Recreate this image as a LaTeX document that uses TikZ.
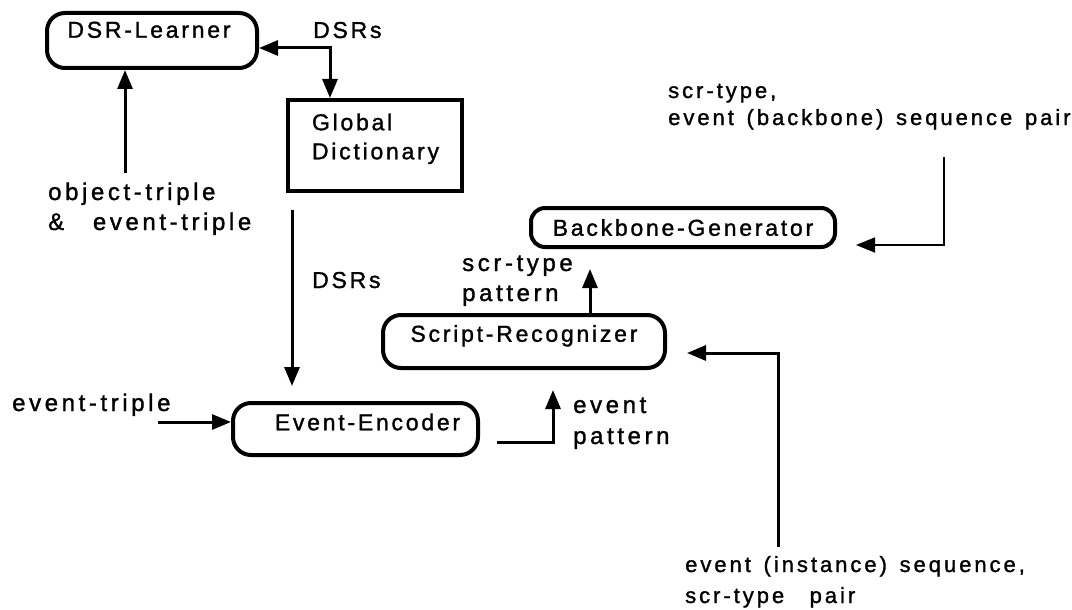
\documentclass[tikz,border=0pt]{standalone}
\usepackage{fontspec}
\setmainfont{Liberation Sans}[LetterSpace=12, FakeBold=1.3]
\newfontfamily\lblfont{Liberation Sans}[LetterSpace=15, WordSpace=1.4, FakeBold=1.3]
\newfontfamily\seqfont{Liberation Sans}[LetterSpace=13.5, WordSpace=1.4, FakeBold=1.3]
\usetikzlibrary{arrows.meta}

\begin{document}
\begin{tikzpicture}[x=1pt, y=-1pt,
  >={Triangle[length=19pt, width=15pt]},
  every node/.style={font=\fontsize{23}{29}\selectfont},
  proc/.style={draw, line width=4pt, rounded corners=18pt, inner sep=0pt, text height=16.5pt},
  conn/.style={line width=3pt, ->},
  thinconn/.style={line width=1.6pt, ->},
  lbl/.style={font=\lblfont\fontsize{24}{30}\selectfont, anchor=base west, align=left, inner sep=0pt},
  seqlbl/.style={lbl, font=\seqfont\fontsize{22}{27}\selectfont}
]
\useasboundingbox (0,0) rectangle (1072,610);

% processing units
\node[proc, minimum width=210pt, minimum height=55pt, text depth=22pt] (dsr) at (152,40.5) {DSR-Learner\hspace*{6pt}};
\node[draw, line width=4pt, minimum width=174pt, minimum height=91pt, inner xsep=0pt,
      text width=126pt, align=left, text height=16.5pt, text depth=47pt] (gd) at (375,145.5) {Global\\Dictionary};
\node[proc, rounded corners=14pt, minimum width=304pt, minimum height=39pt, text depth=0pt] (bg) at (683,227.5) {Backbone-Generator};
\node[proc, minimum width=282pt, minimum height=53pt, text depth=16pt] (sr) at (524,341.5) {Script-Recognizer};
\node[proc, minimum width=245pt, minimum height=52pt, text depth=14pt] (ee) at (355.5,429) {\hspace*{24pt}Event-Encoder};

% labels (anchored on the baseline of their last line)
\node[lbl, font=\fontsize{23}{29}\selectfont] (lDSRa) at (313,38) {DSRs};
\node[lbl] (lobj) at (48,230) {object-triple\\\&\ \ event-triple};
\node[lbl, font=\fontsize{23}{29}\selectfont] (lDSRb) at (312,288) {DSRs};
\node[lbl] (let) at (12,411) {event-triple};
\node[lbl] (lscr) at (462,301) {scr-type\\pattern};
\node[lbl, font=\lblfont\fontsize{24}{31}\selectfont] (lev) at (573,444) {event\\pattern};
\node[seqlbl] (lbb) at (668,125) {scr-type,\\event (backbone) sequence pair};
\node[seqlbl, font=\seqfont\fontsize{22}{31}\selectfont] (linst) at (685,603) {event (instance)\ sequence,\\scr-type\ \ pair};

% connector end points
\coordinate (objin) at (125,173);
\coordinate (gdout) at (292,210);
\coordinate (etin) at (158,422);
\coordinate (eeout) at (497,442);
\coordinate (srin) at (553,0);
\coordinate (srup) at (590,0);
\coordinate (bbin) at (944,157);
\coordinate (instin) at (778,547);

% connectors
\draw[conn] (objin) -- (objin |- dsr.south);
\draw[conn, <->] ([yshift=-7.5pt]dsr.east) -| ([xshift=-45pt]gd.north);
\draw[conn, shorten >=15pt] (gdout) -- (gdout |- ee.north);
\draw[conn] (etin) -- (etin -| ee.west);
\draw[conn, shorten >=20pt] (eeout) -| (srin |- sr.south);
\draw[conn, shorten >=20pt] (srup |- sr.north) -- (srup |- bg.south);
\draw[thinconn, shorten >=19pt] (bbin) |- ([yshift=-17.5pt]bg.east);
\draw[conn, shorten >=20pt] (instin) |- ([yshift=-11.5pt]sr.east);
\end{tikzpicture}
\end{document}
